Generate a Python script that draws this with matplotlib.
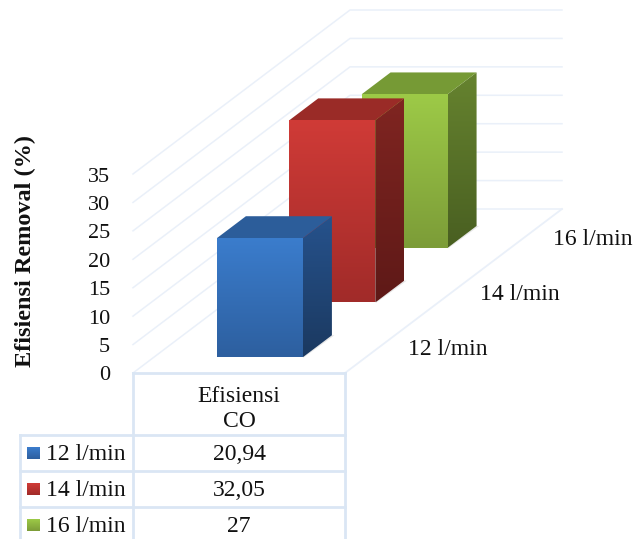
import matplotlib
matplotlib.use("Agg")
import matplotlib.pyplot as plt
import numpy as np
from matplotlib.colors import LinearSegmentedColormap
from matplotlib.patches import Polygon

plt.rcParams['font.family'] = ['Liberation Serif', 'DejaVu Serif']

# data
categories = ["12 l/min", "14 l/min", "16 l/min"]
values = [20.94, 32.05, 27]
value_labels = ["20,94", "32,05", "27"]
column_label = "Efisiensi\nCO"
yticks = [0, 5, 10, 15, 20, 25, 30, 35]
ylabel = "Efisiensi Removal (%)"

# colours: front top, front bottom, side top, side bottom, top face
colors = [
    ("#3B7DCD", "#2D5F9F", "#26528C", "#1B3960", "#2C5D9A"),
    ("#D03B37", "#A12B29", "#802521", "#5E1917", "#9A2B27"),
    ("#9DCA47", "#7C9C38", "#66832F", "#495F21", "#769A35"),
]
grid_color = "#EAF0F9"
table_color = "#DAE6F4"

# oblique projection of the 3d box, everything in figure pixels
x0, y0 = 133, 373
floor_w = 212
depth_dx, depth_dy = 217, -164
unit = 199 / 35


def proj(x, v, d):
    # x across the floor (0-1), v = axis value, d = depth (0-3 categories)
    return (x0 + x * floor_w + d / 3 * depth_dx,
            y0 - v * unit + d / 3 * depth_dy)


def gradient_face(ax, pts, top, bottom, z):
    pts = np.array(pts)
    cmap = LinearSegmentedColormap.from_list("face", [top, bottom])
    poly = Polygon(pts, closed=True, fc="none", ec="none", zorder=z)
    ax.add_patch(poly)
    im = ax.imshow(np.linspace(0, 1, 256).reshape(-1, 1), cmap=cmap, aspect="auto",
                   extent=(pts[:, 0].min(), pts[:, 0].max(), pts[:, 1].max(), pts[:, 1].min()),
                   zorder=z)
    im.set_clip_path(poly)


fig = plt.figure(figsize=(6.35, 5.39), dpi=100)
ax = fig.add_axes([0, 0, 1, 1])

# grid on the two walls
for t in yticks:
    a = proj(0, t, 0)
    b = proj(0, t, 3)
    c = proj(1, t, 3)
    ax.plot([a[0], b[0], c[0]], [a[1], b[1], c[1]], color=grid_color, lw=1.1, zorder=1)
    ax.text(110, a[1] + 3, str(t), ha="right", va="center", fontsize=16, color="#111111")

# floor edge on the right side
a = proj(1, 0, 0)
b = proj(1, 0, 3)
ax.plot([a[0], b[0]], [a[1], b[1]], color=grid_color, lw=1.3, zorder=1)

# bars, back to front
bar_w = 86 / floor_w
bar_x = (1 - bar_w) / 2
bar_d = 0.4
for i in [2, 1, 0]:
    v = values[i]
    d1 = i + 0.29
    d2 = d1 + bar_d
    xl, xr = bar_x, bar_x + bar_w
    z = 3 + (2 - i) * 2
    c = colors[i]
    # soft shadow at the foot of the side face
    s = [proj(xr, 0, d1), proj(xr, 0, d2), proj(xr + 0.012, 0, d2), proj(xr + 0.006, 0, d1 - 0.01)]
    ax.add_patch(Polygon(s, closed=True, fc="#C8C8C8", ec="none", alpha=0.45, zorder=z))
    gradient_face(ax, [proj(xl, v, d1), proj(xr, v, d1), proj(xr, 0, d1), proj(xl, 0, d1)],
                  c[0], c[1], z + 0.3)
    gradient_face(ax, [proj(xr, v, d1), proj(xr, v, d2), proj(xr, 0, d2), proj(xr, 0, d1)],
                  c[2], c[3], z + 0.2)
    ax.add_patch(Polygon([proj(xl, v, d1), proj(xl, v, d2), proj(xr, v, d2), proj(xr, v, d1)],
                         closed=True, fc=c[4], ec="none", zorder=z + 0.2))

# depth axis labels
for i, name in enumerate(categories):
    px, py = proj(1, 0, i + 0.5)
    ax.text(px + 27, py + 3.5, name, ha="left", va="center", fontsize=17, color="#111111")

# data table under the chart
table_left, col1, col2 = 20, 133, 345
rows = [435, 471, 507, 543]
lw = 2
ax.plot([col1, col1], [y0, 539], color=table_color, lw=lw, zorder=2)
ax.plot([col2, col2], [y0, 539], color=table_color, lw=lw, zorder=2)
ax.plot([table_left, table_left], [rows[0], 539], color=table_color, lw=lw, zorder=2)
ax.plot([col1, col2], [y0, y0], color=table_color, lw=lw, zorder=2)
for r in rows[:3]:
    ax.plot([table_left, col2], [r, r], color=table_color, lw=lw, zorder=2)

ax.text(239, 409, column_label, ha="center", va="center", fontsize=17,
        linespacing=1.25, color="#111111")
for i, name in enumerate(categories):
    mid = (rows[i] + rows[i + 1]) / 2
    # legend swatch with the same shading as the bar front
    gradient_face(ax, [(27, mid - 6), (40, mid - 6), (40, mid + 6), (27, mid + 6)],
                  colors[i][0], colors[i][1], 3)
    ax.text(46, mid + 1, name, ha="left", va="center", fontsize=17, color="#111111")
    ax.text(239, mid + 1, value_labels[i], ha="center", va="center", fontsize=17, color="#111111")

ax.text(25, 251, ylabel, rotation=90, ha="center", va="center", fontsize=17.5,
        fontweight="bold", color="#111111")

ax.set_xlim(0, 635)
ax.set_ylim(539, 0)
ax.axis("off")
fig.savefig("out.png", dpi=100)
